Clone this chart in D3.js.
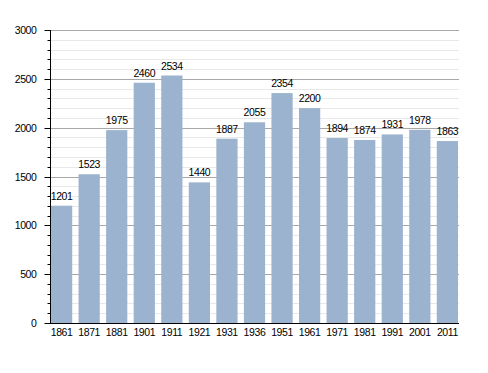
<!DOCTYPE html>
<meta charset="utf-8">
<style>
body { margin: 0; background: #fff; }
text { font-family: "Liberation Sans", Arial, sans-serif; font-size: 10.5px; letter-spacing: -0.4px; }
</style>
<svg id="svg" width="488" height="373"></svg>
<script src="https://d3js.org/d3.v7.min.js"></script>
<script>
// census years and population
var years = ["1861", "1871", "1881", "1901", "1911", "1921", "1931", "1936", "1951", "1961", "1971", "1981", "1991", "2001", "2011"];
var population = [1201, 1523, 1975, 2460, 2534, 1440, 1887, 2055, 2354, 2200, 1894, 1874, 1931, 1978, 1863];
var yTicks = [0, 500, 1000, 1500, 2000, 2500, 3000];

var svg = d3.select("svg");
var plotLeft = 50, plotRight = 459, plotTop = 30, plotBottom = 323;

var x = d3.scaleBand()
    .domain(years)
    .range([plotLeft + 1, plotRight - 1])
    .paddingInner(0.23)
    .paddingOuter(0);

var y = d3.scaleLinear()
    .domain([0, 3000])
    .range([plotBottom, plotTop]);

// minor grid every 100
var minor = d3.range(100, 3001, 100).filter(function(v) { return v % 500 != 0; });
svg.append("g")
    .selectAll("line")
    .data(minor)
    .enter().append("line")
    .attr("x1", plotLeft).attr("x2", plotRight)
    .attr("y1", function(d) { return Math.round(y(d)) + 0.5; })
    .attr("y2", function(d) { return Math.round(y(d)) + 0.5; })
    .attr("stroke", "#e8e8e8")
    .attr("stroke-width", 1);

// major grid
svg.append("g")
    .selectAll("line")
    .data(yTicks.filter(function(d) { return d > 0; }))
    .enter().append("line")
    .attr("x1", plotLeft).attr("x2", plotRight)
    .attr("y1", function(d) { return Math.round(y(d)) + 0.5; })
    .attr("y2", function(d) { return Math.round(y(d)) + 0.5; })
    .attr("stroke", "#a8a8a8")
    .attr("stroke-width", 1);

svg.append("g")
    .selectAll("rect")
    .data(population)
    .enter().append("rect")
    .attr("x", function(d, i) { return x(years[i]); })
    .attr("y", function(d) { return y(d); })
    .attr("width", x.bandwidth())
    .attr("height", function(d) { return y(0) - y(d); })
    .attr("fill", "#9bb3ce");

svg.append("g")
    .selectAll("text")
    .data(population)
    .enter().append("text")
    .attr("x", function(d, i) { return x(years[i]) + x.bandwidth() / 2; })
    .attr("y", function(d) { return y(d) - 6; })
    .attr("text-anchor", "middle")
    .attr("fill", "#000")
    .text(function(d) { return d; });

// y axis with minor ticks
var yAxis = svg.append("g")
    .attr("transform", "translate(" + (plotLeft + 0.5) + ",0)");
yAxis.append("line")
    .attr("x1", 0).attr("x2", 0)
    .attr("y1", plotTop).attr("y2", plotBottom + 1)
    .attr("stroke", "#000");
yAxis.selectAll("line.minor")
    .data(minor)
    .enter().append("line")
    .attr("class", "minor")
    .attr("x1", -3).attr("x2", 0)
    .attr("y1", function(d) { return Math.round(y(d)) + 0.5; })
    .attr("y2", function(d) { return Math.round(y(d)) + 0.5; })
    .attr("stroke", "#000");
yAxis.selectAll("line.major")
    .data(yTicks)
    .enter().append("line")
    .attr("class", "major")
    .attr("x1", -6).attr("x2", 0)
    .attr("y1", function(d) { return Math.round(y(d)) + 0.5; })
    .attr("y2", function(d) { return Math.round(y(d)) + 0.5; })
    .attr("stroke", "#000");
yAxis.selectAll("text")
    .data(yTicks)
    .enter().append("text")
    .attr("x", -14)
    .attr("y", function(d) { return y(d) + 4; })
    .attr("text-anchor", "end")
    .text(function(d) { return d; });

// x axis
svg.append("line")
    .attr("x1", plotLeft).attr("x2", plotRight)
    .attr("y1", plotBottom + 0.5).attr("y2", plotBottom + 0.5)
    .attr("stroke", "#000");
svg.append("g")
    .selectAll("text")
    .data(years)
    .enter().append("text")
    .attr("x", function(d) { return x(d) + x.bandwidth() / 2; })
    .attr("y", plotBottom + 13)
    .attr("text-anchor", "middle")
    .text(function(d) { return d; });
</script>
